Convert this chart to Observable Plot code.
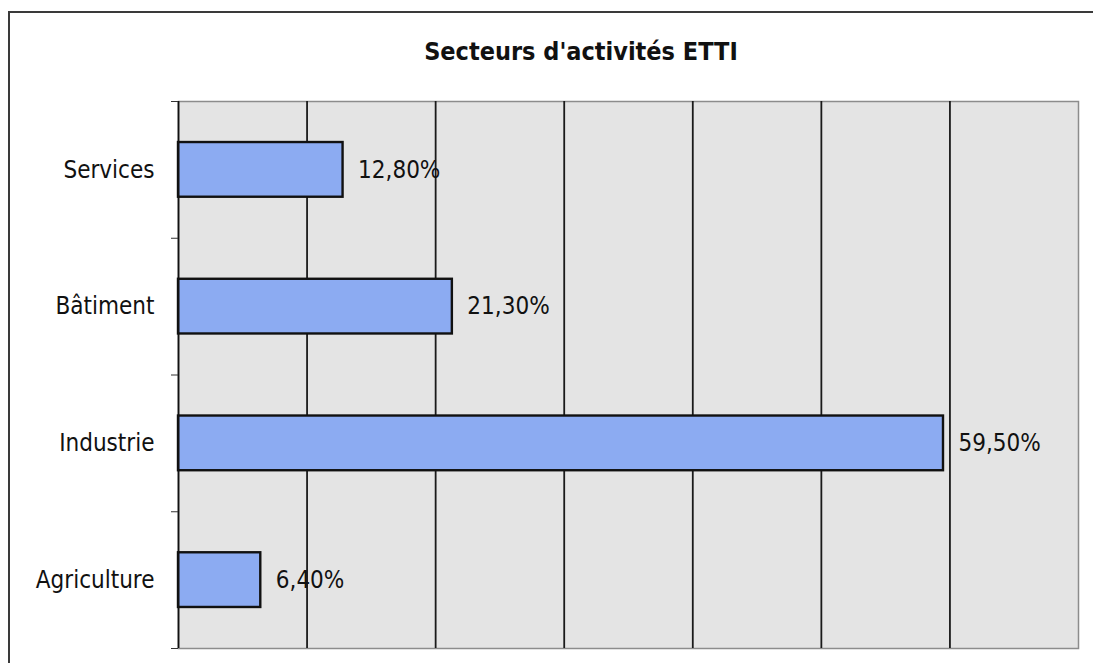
<!DOCTYPE html>
<html>
<head>
<meta charset="utf-8">
<script src="https://cdn.jsdelivr.net/npm/d3@7"></script>
<script src="https://cdn.jsdelivr.net/npm/@observablehq/plot@0.6"></script>
<style>
  html, body { margin: 0; padding: 0; background: #ffffff; }
  #wrap { position: relative; width: 1093px; height: 663px; overflow: hidden; background: #fff; }
  #frame { position: absolute; left: 8px; top: 11px; width: 1100px; height: 700px; border: 2px solid #3a3a3a; box-sizing: border-box; }
  #title { position: absolute; top: 37px; left: 331px; width: 500px; text-align: center;
           font-family: "DejaVu Sans Condensed", "DejaVu Sans", sans-serif; font-stretch: condensed;
           font-weight: bold; font-size: 25px; line-height: 30px; color: #111; }
  #chart { position: absolute; left: 0; top: 0; }
  #chart svg { font-family: "DejaVu Sans Condensed", "DejaVu Sans", sans-serif; font-stretch: condensed; }
</style>
</head>
<body>
<div id="wrap">
  <div id="frame"></div>
  <div id="chart"></div>
  <div id="title">Secteurs d'activités ETTI</div>
</div>
<script>
// Data (bottom to top)
const categories = ["Agriculture", "Industrie", "Bâtiment", "Services"];
const values = [6.4, 59.5, 21.3, 12.8];
const gridTicks = [10, 20, 30, 40, 50, 60];
const xMax = 70;

const rows = categories.map((c, i) => ({category: c, value: values[i], i}));
const fmt = v => v.toFixed(2).replace(".", ",") + "%";

const chart = Plot.plot({
  width: 1093,
  height: 663,
  marginLeft: 178,
  marginRight: 15,
  marginTop: 101,
  marginBottom: 15,
  style: {background: "transparent", fontSize: "24px", color: "#111"},
  x: {domain: [0, xMax], axis: null},
  y: {domain: [0, categories.length], axis: null},
  marks: [
    Plot.frame({fill: "#e4e4e4", stroke: "#8c8c8c", strokeWidth: 1.5}),
    Plot.ruleX(gridTicks, {stroke: "#1a1a1a", strokeWidth: 1.8}),
    Plot.rectX(rows, {x1: 0, x2: "value", y1: d => d.i + 0.3, y2: d => d.i + 0.7,
      fill: "#8cabf2", stroke: "#111", strokeWidth: 2.4}),
    Plot.ruleX([0], {stroke: "#111", strokeWidth: 1.8}),
    Plot.axisY(d3.range(categories.length + 1), {tickSize: 7, tickFormat: () => "", stroke: "#333"}),
    Plot.axisY(categories.map((c, i) => i + 0.5), {tickSize: 0, tickPadding: 24,
      tickFormat: d => categories[Math.round(d - 0.5)], fontSize: 24, fill: "#111"}),
    Plot.text(rows, {x: "value", y: d => d.i + 0.5, text: d => fmt(d.value),
      textAnchor: "start", dx: 15, fontSize: 24, fill: "#111"})
  ]
});
document.getElementById("chart").appendChild(chart);
</script>
</body>
</html>
